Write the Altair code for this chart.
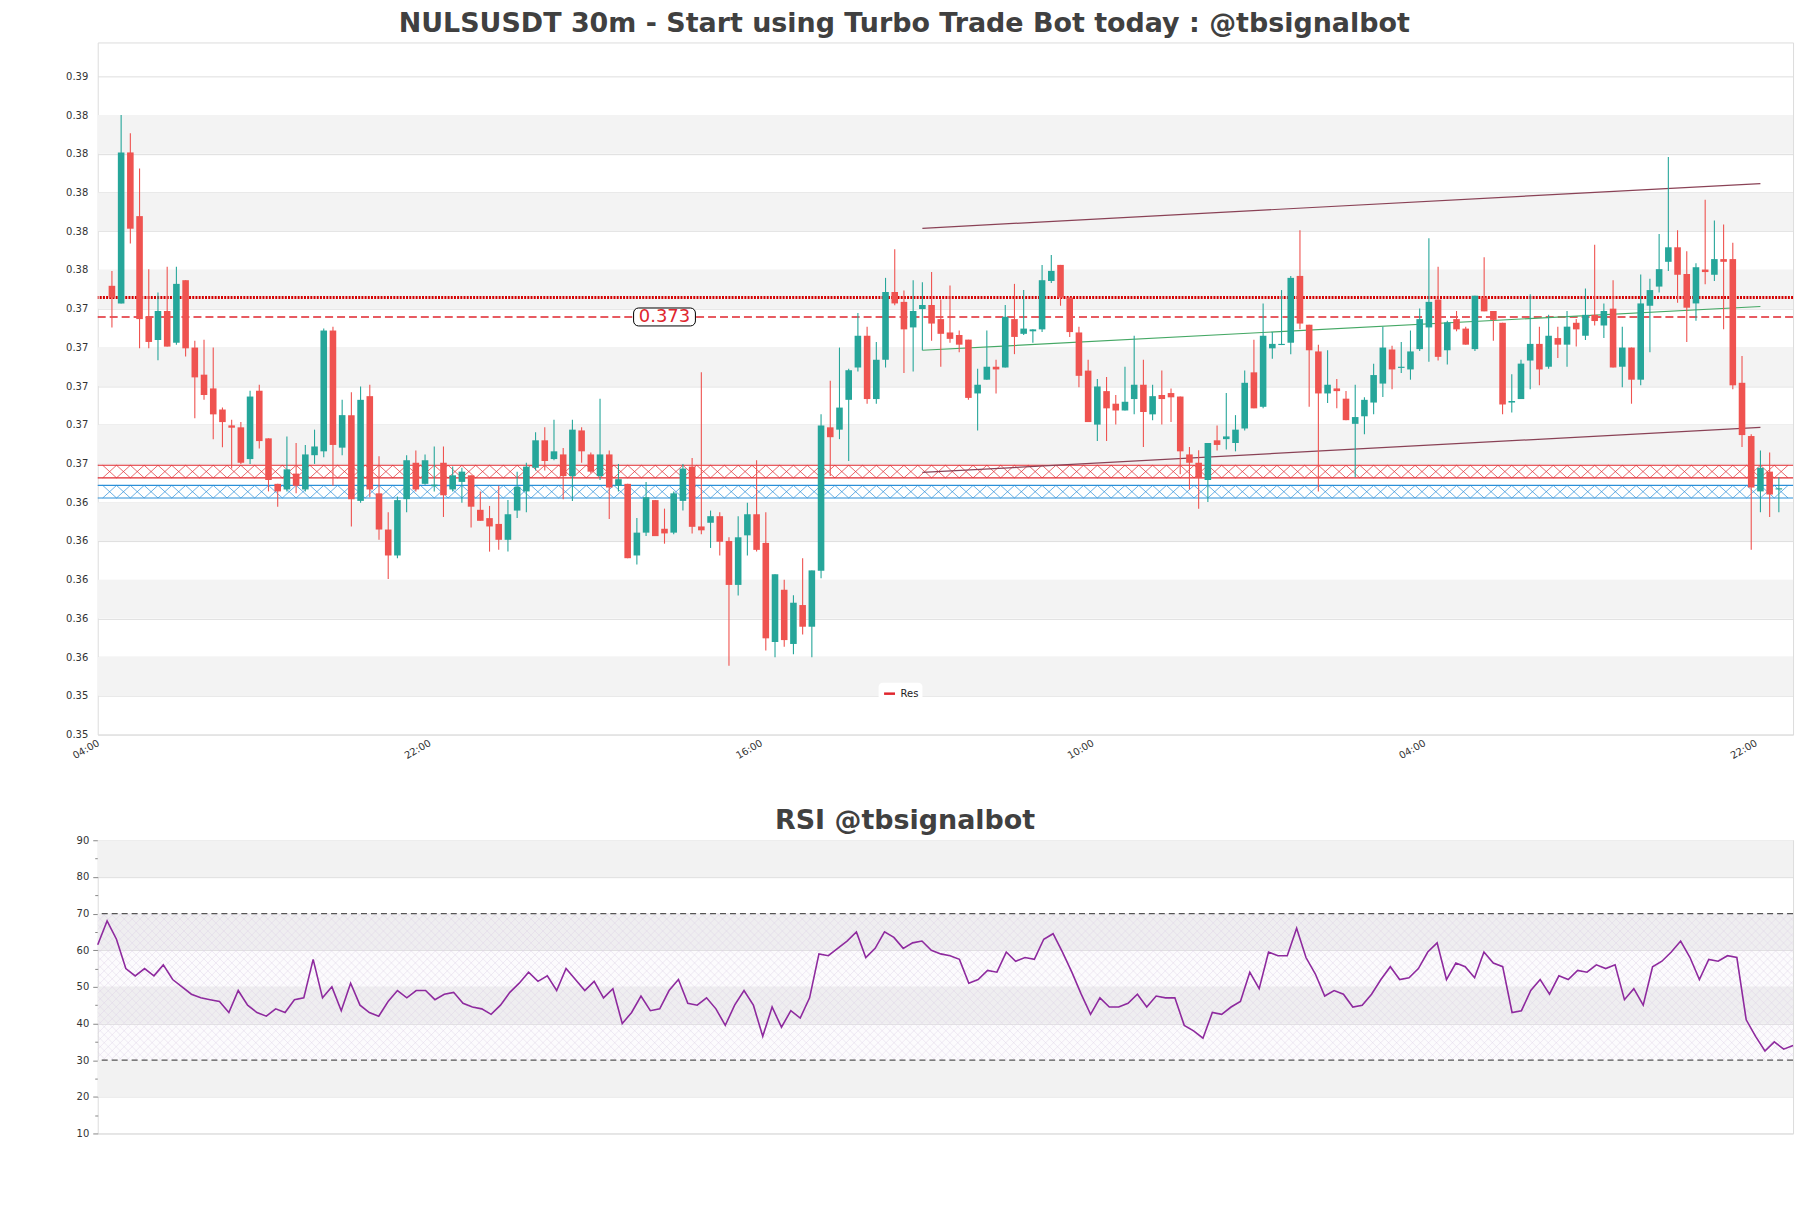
import json
import altair as alt
import numpy as np
import pandas as pd

TITLE = "NULSUSDT 30m - Start using Turbo Trade Bot today : @tbsignalbot"
RSI_TITLE = "RSI @tbsignalbot"

opens = [0.37518,0.37427,0.38207,0.37878,0.37358,0.37238,0.37388,0.37224,0.37547,0.37199,
0.37059,0.36988,0.36879,0.36797,0.36787,0.36623,0.36976,0.36730,0.36495,0.36466,
0.36548,0.36466,0.36643,0.36663,0.37287,0.36682,0.36850,0.36407,0.36948,0.36446,
0.36259,0.36125,0.36416,0.36604,0.36495,0.36483,0.36604,0.36466,0.36505,0.36539,
0.36361,0.36318,0.36288,0.36206,0.36357,0.36456,0.36578,0.36720,0.36623,0.36647,
0.36535,0.36771,0.36647,0.36535,0.36647,0.36485,0.36495,0.36125,0.36243,0.36411,
0.36263,0.36243,0.36407,0.36584,0.36275,0.36294,0.36328,0.36200,0.35973,0.36229,
0.36338,0.36190,0.35678,0.35948,0.35668,0.35869,0.35757,0.36046,0.36787,0.36775,
0.36929,0.37096,0.37260,0.36933,0.37136,0.37486,0.37435,0.37303,0.37398,0.37419,
0.37346,0.37277,0.37264,0.37240,0.36962,0.37033,0.37100,0.37096,0.37346,0.37270,
0.37283,0.37293,0.37543,0.37626,0.37457,0.37277,0.37080,0.36801,0.36974,0.36909,
0.36874,0.36933,0.37007,0.36854,0.36954,0.36964,0.36946,0.36647,0.36604,0.36515,
0.36720,0.36726,0.36706,0.36781,0.37071,0.36893,0.37195,0.37212,0.37224,0.37569,
0.37317,0.37179,0.36962,0.36988,0.36935,0.36805,0.36844,0.36915,0.37013,0.37189,
0.37094,0.37086,0.37191,0.37303,0.37447,0.37185,0.37346,0.37297,0.37191,0.37457,
0.37388,0.37327,0.36915,0.36933,0.37132,0.37218,0.37100,0.37248,0.37214,0.37327,
0.37260,0.37368,0.37313,0.37400,0.37100,0.37199,0.37033,0.37415,0.37514,0.37642,
0.37717,0.37579,0.37427,0.37602,0.37575,0.37656,0.37656,0.37017,0.36742,0.36456,
0.36558,0.36466]
highs = [0.37595,0.38400,0.38306,0.38124,0.37604,0.37484,0.37616,0.37616,0.37547,0.37234,
0.37240,0.37199,0.36889,0.36826,0.36814,0.36976,0.37007,0.36730,0.36495,0.36740,
0.36706,0.36696,0.36775,0.37297,0.37307,0.36929,0.36968,0.36998,0.37007,0.36637,
0.36348,0.36430,0.36643,0.36667,0.36647,0.36688,0.36688,0.36584,0.36578,0.36539,
0.36456,0.36381,0.36485,0.36411,0.36558,0.36604,0.36761,0.36787,0.36826,0.36680,
0.36826,0.36787,0.36657,0.36935,0.36667,0.36598,0.36495,0.36318,0.36505,0.36411,
0.36367,0.36456,0.36598,0.36629,0.37071,0.36357,0.36348,0.36219,0.36328,0.36397,
0.36617,0.36348,0.36028,0.35999,0.35920,0.36111,0.36048,0.36854,0.37027,0.37199,
0.37090,0.37378,0.37307,0.37228,0.37559,0.37707,0.37494,0.37547,0.37537,0.37589,
0.37447,0.37520,0.37287,0.37240,0.37090,0.37287,0.37136,0.37419,0.37528,0.37496,
0.37293,0.37626,0.37677,0.37626,0.37457,0.37307,0.37136,0.37037,0.37047,0.36954,
0.37100,0.37260,0.37136,0.37007,0.37080,0.36988,0.36946,0.36686,0.36669,0.36706,
0.36797,0.36964,0.36850,0.37080,0.37240,0.37427,0.37279,0.37496,0.37569,0.37805,
0.37317,0.37214,0.37185,0.37037,0.36974,0.37007,0.36942,0.37116,0.37307,0.37208,
0.37228,0.37287,0.37401,0.37764,0.37616,0.37338,0.37388,0.37307,0.37467,0.37665,
0.37388,0.37327,0.37061,0.37136,0.37474,0.37307,0.37368,0.37307,0.37388,0.37346,
0.37504,0.37730,0.37427,0.37547,0.37307,0.37199,0.37577,0.37555,0.37786,0.38184,
0.37805,0.37697,0.37634,0.37963,0.37855,0.37835,0.37740,0.37155,0.36751,0.36667,
0.36657,0.36529]
lows = [0.37303,0.37427,0.37736,0.37195,0.37195,0.37134,0.37204,0.37214,0.37153,0.36834,
0.36929,0.36726,0.36684,0.36574,0.36598,0.36598,0.36677,0.36456,0.36377,0.36456,
0.36446,0.36456,0.36598,0.36633,0.36485,0.36643,0.36275,0.36397,0.36426,0.36206,
0.36003,0.36111,0.36348,0.36456,0.36491,0.36456,0.36324,0.36456,0.36397,0.36269,
0.36304,0.36145,0.36154,0.36145,0.36318,0.36348,0.36564,0.36564,0.36617,0.36416,
0.36407,0.36604,0.36550,0.36515,0.36314,0.36456,0.36111,0.36078,0.36225,0.36225,
0.36186,0.36235,0.36357,0.36239,0.36235,0.36164,0.36125,0.35556,0.35918,0.36125,
0.36145,0.35634,0.35599,0.35654,0.35615,0.35717,0.35599,0.36007,0.36535,0.36726,
0.36613,0.37076,0.36909,0.36909,0.37096,0.37417,0.37067,0.37076,0.37185,0.37234,
0.37100,0.37224,0.37175,0.36929,0.36771,0.37033,0.36962,0.37096,0.37165,0.37264,
0.37224,0.37279,0.37533,0.37415,0.37254,0.36994,0.36814,0.36716,0.36716,0.36801,
0.36874,0.36854,0.36686,0.36824,0.36801,0.36814,0.36545,0.36466,0.36367,0.36401,
0.36667,0.36673,0.36663,0.36771,0.36885,0.36885,0.37141,0.37212,0.37165,0.37293,
0.36893,0.36456,0.36913,0.36885,0.36824,0.36529,0.36751,0.36854,0.36944,0.36984,
0.37067,0.37033,0.37181,0.37126,0.37132,0.37112,0.37283,0.37214,0.37181,0.37386,
0.37234,0.36854,0.36864,0.36933,0.36984,0.37004,0.37090,0.37145,0.37100,0.37204,
0.37238,0.37313,0.37248,0.37096,0.36994,0.36909,0.37004,0.37175,0.37484,0.37595,
0.37431,0.37228,0.37338,0.37526,0.37543,0.37293,0.36984,0.36686,0.36154,0.36348,
0.36324,0.36348]
closes = [0.37457,0.38207,0.37813,0.37346,0.37228,0.37388,0.37204,0.37528,0.37195,0.37045,
0.36954,0.36854,0.36814,0.36785,0.36604,0.36946,0.36716,0.36515,0.36456,0.36570,
0.36485,0.36647,0.36688,0.37287,0.36696,0.36850,0.36416,0.36929,0.36466,0.36259,
0.36125,0.36411,0.36617,0.36466,0.36617,0.36491,0.36436,0.36539,0.36558,0.36377,
0.36304,0.36275,0.36206,0.36338,0.36480,0.36584,0.36720,0.36613,0.36663,0.36535,
0.36775,0.36663,0.36558,0.36647,0.36476,0.36519,0.36111,0.36243,0.36426,0.36225,
0.36239,0.36446,0.36574,0.36273,0.36255,0.36328,0.36196,0.35973,0.36219,0.36338,
0.36154,0.35697,0.36028,0.35688,0.35881,0.35757,0.36048,0.36797,0.36736,0.36889,
0.37082,0.37260,0.36933,0.37136,0.37486,0.37427,0.37293,0.37388,0.37419,0.37323,
0.37270,0.37244,0.37214,0.36939,0.37007,0.37100,0.37086,0.37358,0.37254,0.37297,
0.37293,0.37547,0.37595,0.37457,0.37279,0.37053,0.36814,0.36998,0.36885,0.36874,
0.36919,0.37007,0.36866,0.36948,0.36933,0.36942,0.36663,0.36604,0.36525,0.36706,
0.36696,0.36740,0.36775,0.37017,0.36885,0.37260,0.37218,0.37218,0.37559,0.37323,
0.37185,0.36962,0.37007,0.36974,0.36824,0.36840,0.36929,0.37057,0.37199,0.37086,
0.37100,0.37179,0.37346,0.37435,0.37151,0.37329,0.37293,0.37214,0.37467,0.37386,
0.37342,0.36905,0.36923,0.37116,0.37218,0.37086,0.37260,0.37214,0.37307,0.37293,
0.37368,0.37336,0.37388,0.37096,0.37199,0.37033,0.37427,0.37496,0.37604,0.37717,
0.37575,0.37405,0.37614,0.37589,0.37656,0.37642,0.37004,0.36747,0.36476,0.36578,
0.36440,0.36472]

rsi_values = [61.5,68,63,55,53,55,53,56,52,50,48,47,46.5,46,43,49,45,43,42,44,43,46.5,47,57.5,
47,50,43.5,51,45,43,42,46,49,47,49,49,46.5,48,48.5,45.5,44.5,44,42.5,45,48.5,51,54,51.5,
53,49,55,52,49,51.5,47,49.5,40,43,47.5,43.5,44,49,52,45.5,45,47,44,39.5,45,49,45,36.5,
44.5,39,43.5,41.5,47,59,58.5,60.5,62.5,65,58,60.5,65,63.5,60.5,62,62.5,60,59,58.5,57.5,
51,52,54.5,54,59.5,57,58,57.5,63,64.5,59.5,54,48,42.5,47,44.5,44.5,45.5,48,44.5,47.5,47,
47,39.5,38,36,43,42.5,44.5,46,54,49.5,59.5,58.5,58.5,66,58,53.5,47.5,49,48,44.5,45,48,52,
55.5,52,52.5,55,59.5,62,52,56.5,55.5,52.5,59.5,56.5,55.5,43,43.5,49,52,48,53,52,54.5,54,
56,55,56,46.5,49.5,45,55.5,57,59.5,62.5,58,52,57.5,57,58.5,58,41,36.5,32.5,35,33,34]

x_tick_index = [0, 36, 72, 108, 144, 180]
x_tick_labels = ["04:00", "22:00", "16:00", "10:00", "04:00", "22:00"]
price_ticks = [0.352, 0.354, 0.356, 0.358, 0.360, 0.362, 0.364, 0.366, 0.368,
               0.370, 0.372, 0.374, 0.376, 0.378, 0.380, 0.382, 0.384, 0.386]
price_domain = [0.352, 0.38775]
grey_band_low = [0.354, 0.358, 0.362, 0.366, 0.370, 0.374, 0.378, 0.382]
res_level = 0.37357
res_label = "0.373"
res_label_at = 61
dotted_level = 0.37457
red_zone = [0.36526, 0.36591]
blue_zone = [0.36422, 0.36487]
line_names = ["upper", "upper", "lower", "lower", "mid", "mid"]
line_index = [89, 180, 89, 180, 89, 180]
line_price = [0.37815, 0.38046, 0.36554, 0.36787, 0.37185, 0.37411]
rsi_ticks = [10, 15, 20, 25, 30, 35, 40, 45, 50, 55, 60, 65, 70, 75, 80, 85, 90]
rsi_grey_low = [20, 40, 60, 80]
rsi_levels = [30, 70]

W, H1, H2 = 1700, 694, 294
GREEN, RED = "#26a69a", "#ef5350"
FONT = "DejaVu Sans"

n = len(opens)
candles = pd.DataFrame({"i": np.arange(1, n + 1), "open": opens, "high": highs,
                        "low": lows, "close": closes})
candles["color"] = np.where(candles["close"] >= candles["open"], GREEN, RED)

xscale = alt.Scale(domain=[0, n + 1], nice=False, zero=False)
xaxis = alt.Axis(values=x_tick_index,
                 labelExpr=json.dumps(x_tick_labels) + "[round(datum.value / 36)]",
                 labelAngle=330, labelAlign="right", labelBaseline="top",
                 labelFontSize=10, labelColor="#333333", labelFont=FONT,
                 ticks=False, domain=False, grid=False, labelPadding=3, labelOffset=-7,
                 minExtent=30, maxExtent=30, title=None)
yscale = alt.Scale(domain=price_domain, nice=False, zero=False)
yaxis = alt.Axis(values=price_ticks, format=".2f", labelFontSize=10, labelColor="#333333",
                 labelFont=FONT, ticks=False, domain=False, grid=True, gridColor="#dedede",
                 gridWidth=1, labelPadding=10, minExtent=92, maxExtent=92, title=None)


def X(field, **kw):
    return alt.X(field, type="quantitative", scale=xscale, axis=xaxis, **kw)


def Y(field, **kw):
    return alt.Y(field, type="quantitative", scale=yscale, axis=yaxis, **kw)


bands = alt.Chart(pd.DataFrame({"lo": grey_band_low,
                                "hi": [v + 0.002 for v in grey_band_low]})).mark_rect(
    color="#f3f3f3").encode(x=alt.value(0), x2=alt.value(W), y=Y("lo"), y2="hi:Q")


def hatch_df(lo, hi, step=1.5):
    starts = np.arange(0, n + 1, step)
    rows = []
    for a in starts:
        rows.append({"x": a, "x2": a + step, "y": hi, "y2": lo})
        rows.append({"x": a, "x2": a + step, "y": lo, "y2": hi})
    return pd.DataFrame(rows)


def zone(lo, hi, color):
    h = alt.Chart(hatch_df(lo, hi)).mark_rule(color=color, strokeWidth=0.7, clip=True).encode(
        x=X("x"), x2="x2:Q", y=Y("y"), y2="y2:Q")
    edge = alt.Chart(pd.DataFrame({"v": [lo, hi]})).mark_rule(color=color, strokeWidth=1.2).encode(
        y=Y("v"))
    return h + edge


red_z = zone(red_zone[0], red_zone[1], "#e0282e")
blue_z = zone(blue_zone[0], blue_zone[1], "#2a8fd8")

tl = pd.DataFrame({"name": line_names, "i": line_index, "p": line_price})
tl["c"] = tl["name"].map({"upper": "#8a4256", "lower": "#8a4256", "mid": "#45a865"})
trend = alt.Chart(tl).mark_line(strokeWidth=1.2).encode(
    x=X("i"), y=Y("p"), detail="name:N", color=alt.Color("c:N", scale=None))

wicks = alt.Chart(candles).mark_rule(strokeWidth=1.1).encode(
    x=X("i"), y=Y("low"), y2="high:Q", color=alt.Color("color:N", scale=None))
bodies = alt.Chart(candles).mark_bar(size=6.6).encode(
    x=X("i"), y=Y("open"), y2="close:Q", color=alt.Color("color:N", scale=None))

res_df = pd.DataFrame({"p": [res_level], "name": ["Res"]})
res_line = alt.Chart(res_df).mark_rule(strokeDash=[8, 4], strokeWidth=1.5).encode(
    y=Y("p"),
    color=alt.Color("name:N", scale=alt.Scale(domain=["Res"], range=["#e0262e"]),
                    legend=alt.Legend(orient="none", legendX=783, legendY=642, title=None,
                                      symbolType="stroke", symbolStrokeWidth=2.5,
                                      symbolDash=[20, 0], symbolSize=120,
                                      labelFontSize=10, labelFont=FONT, labelColor="#222222",
                                      fillColor="white", padding=4, cornerRadius=4)))
dotted = alt.Chart(pd.DataFrame({"p": [dotted_level]})).mark_rule(
    strokeDash=[2, 1.2], strokeWidth=3, color="#d40000").encode(y=Y("p"))

lab = pd.DataFrame({"i": [res_label_at], "p": [res_level], "t": [res_label]})
lab_box = alt.Chart(lab).mark_rect(fill="white", stroke="black", strokeWidth=1, cornerRadius=5,
                                   xOffset=-31, x2Offset=31, yOffset=-9, y2Offset=9).encode(
    x=X("i"), x2="i:Q", y=Y("p"), y2="p:Q")
lab_text = alt.Chart(lab).mark_text(color="#e0262e", fontSize=18, font=FONT, dy=0).encode(
    x=X("i"), y=Y("p"), text="t:N")

main = alt.layer(bands, red_z, blue_z, res_line, dotted, trend, wicks, bodies, lab_box,
                 lab_text).properties(
    width=W, height=H1,
    title=alt.TitleParams(TITLE, fontSize=27, font=FONT, fontWeight="bold", color="#404040",
                          offset=4, anchor="middle", frame="bounds", dx=4))

# RSI panel
rsi_df = pd.DataFrame({"i": np.arange(1, len(rsi_values) + 1), "r": rsi_values})
rxscale = alt.Scale(domain=[1, len(rsi_values)], nice=False, zero=False)
ryscale = alt.Scale(domain=[10, 90], nice=False, zero=False)
ryaxis = alt.Axis(values=rsi_ticks,
                  labelExpr="datum.value % 10 === 0 ? datum.label : ''",
                  labelFontSize=10, labelColor="#333333", labelFont=FONT,
                  ticks=True, tickColor="#888888",
                  tickSize={"condition": {"test": "datum.value % 10 === 0", "value": 5}, "value": 3},
                  gridOpacity={"condition": {"test": "datum.value % 10 === 0", "value": 1}, "value": 0},
                  domain=False, grid=True, gridColor="#dedede", labelPadding=4,
                  minExtent=92, maxExtent=92, title=None)


def RX(field, **kw):
    return alt.X(field, type="quantitative", scale=rxscale, axis=None, **kw)


def RY(field, **kw):
    return alt.Y(field, type="quantitative", scale=ryscale, axis=ryaxis, **kw)


m = len(rsi_values)
rbands = alt.Chart(pd.DataFrame({"lo": rsi_grey_low, "hi": [v + 10 for v in rsi_grey_low]})).mark_rect(
    color="#f2f2f2").encode(x=alt.value(0), x2=alt.value(W), y=RY("lo"), y2="hi:Q")
rfill = alt.Chart(pd.DataFrame({"lo": [rsi_levels[0]], "hi": [rsi_levels[1]]})).mark_rect(
    color="#b28fd0", opacity=0.035).encode(x=alt.value(0), x2=alt.value(W), y=RY("lo"), y2="hi:Q")

span = (rsi_levels[1] - rsi_levels[0]) * (H2 / 80) / (W / (m - 1))
step = 8 / (W / (m - 1))
starts = np.arange(1 - span, m + step, step)
hrows = []
for a in starts:
    hrows.append({"x": a, "x2": a + span, "y": rsi_levels[0], "y2": rsi_levels[1]})
    hrows.append({"x": a, "x2": a + span, "y": rsi_levels[1], "y2": rsi_levels[0]})
rhatch = alt.Chart(pd.DataFrame(hrows)).mark_rule(color="#ddd2e6", strokeWidth=0.45, clip=True).encode(
    x=RX("x"), x2="x2:Q", y=RY("y"), y2="y2:Q")
rlevels = alt.Chart(pd.DataFrame({"v": rsi_levels})).mark_rule(
    color="#555555", strokeDash=[6, 4], strokeWidth=1.2).encode(y=RY("v"))
rline = alt.Chart(rsi_df).mark_line(color="#8e2a9e", strokeWidth=1.6).encode(x=RX("i"), y=RY("r"))

rsi_chart = alt.layer(rbands, rfill, rhatch, rlevels, rline).properties(
    width=W, height=H2,
    title=alt.TitleParams(RSI_TITLE, fontSize=27, font=FONT, fontWeight="bold", color="#404040",
                          offset=0, anchor="middle", frame="bounds", dx=4))

chart = alt.vconcat(main, rsi_chart, spacing=41).properties(
    padding={"left": 5, "top": 8, "right": 14, "bottom": 5},
    background="white",
).configure_view(stroke="#dcdcdc", strokeWidth=1)

chart.save("out.html", embed_options={"renderer": "svg", "actions": False})
